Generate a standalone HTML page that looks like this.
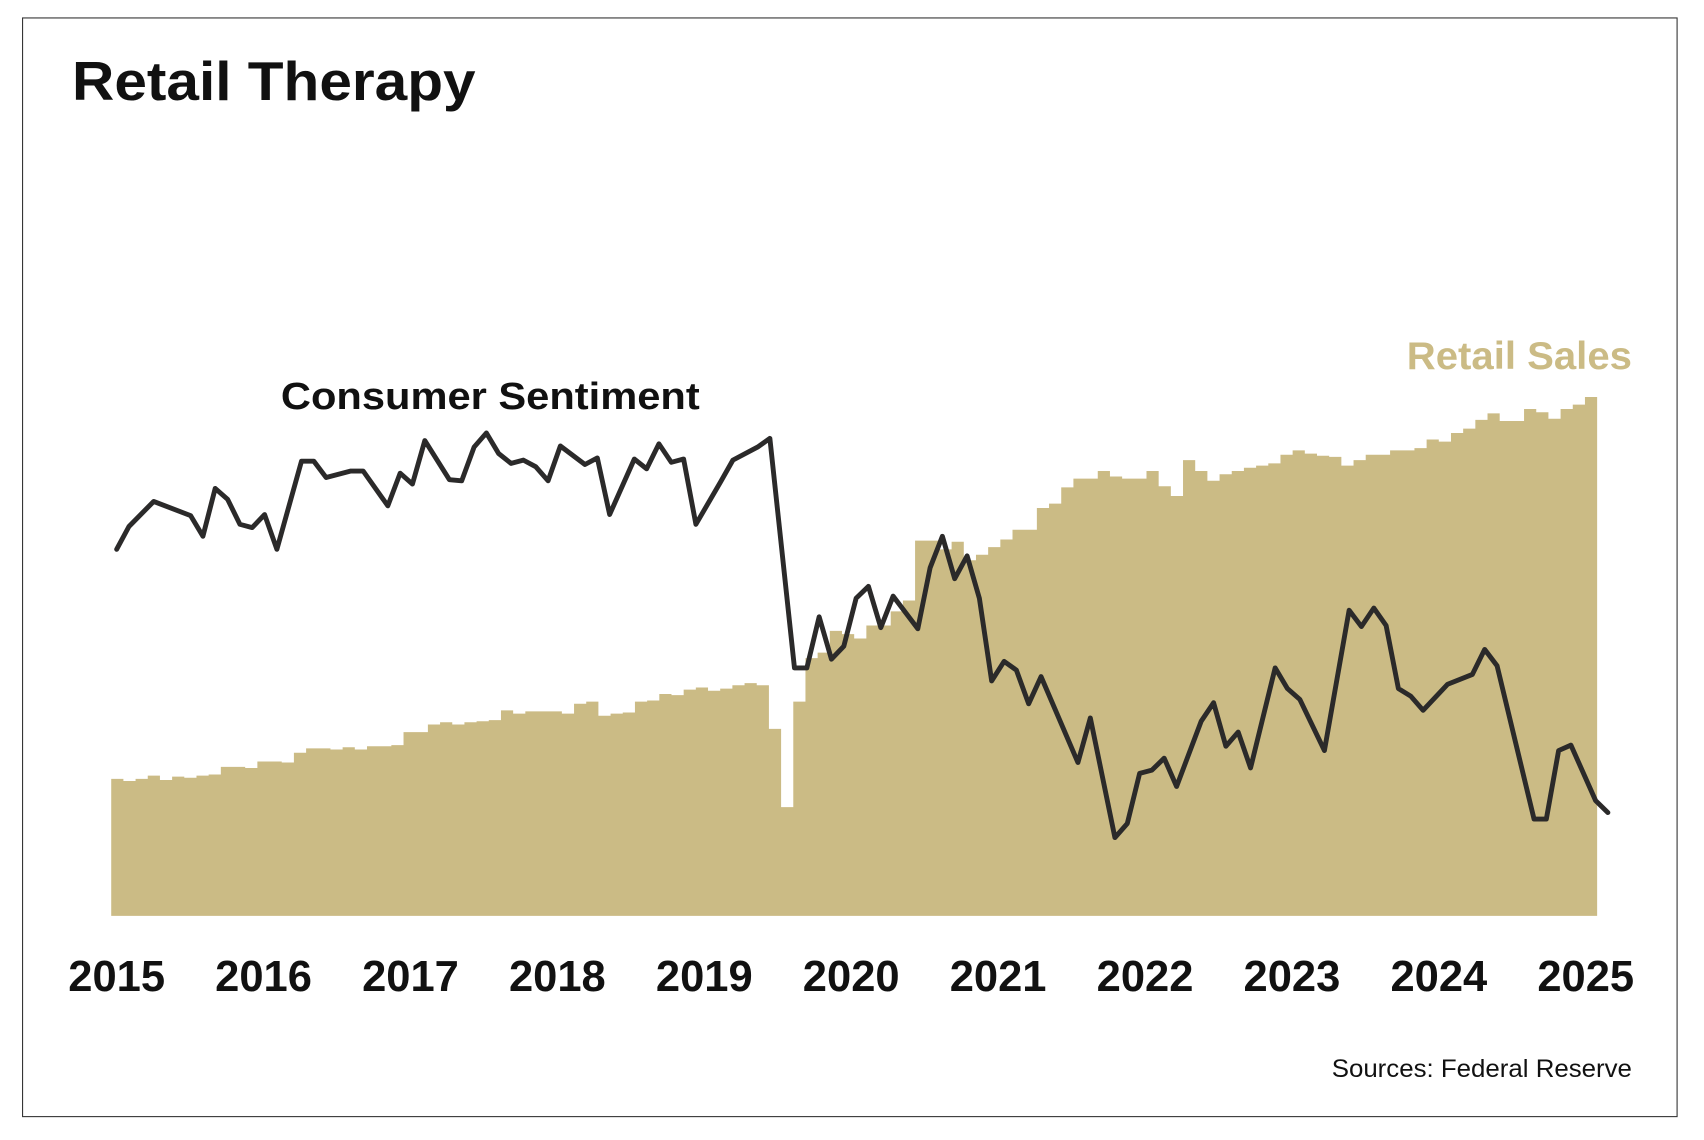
<!DOCTYPE html>
<html><head><meta charset="utf-8"><title>Retail Therapy</title>
<style>
html,body{margin:0;padding:0;background:#fff;}
svg{display:block;}
text{font-family:"Liberation Sans",Arial,sans-serif;}
</style></head>
<body>
<svg id="chart" width="1704" height="1140" viewBox="0 0 1566 1048" xmlns="http://www.w3.org/2000/svg">
  <rect x="20.5" y="16.5" width="1521" height="1010" fill="#fff" stroke="#333" stroke-width="1"/>
  <text x="66" y="92" font-size="50" font-weight="bold" fill="#111" textLength="371" lengthAdjust="spacingAndGlyphs">Retail Therapy</text>
  <g id="bars"></g>
  <g id="line"></g>
  <g id="xaxis"></g>
  <text x="258" y="376" font-size="35" font-weight="bold" fill="#111" textLength="385" lengthAdjust="spacingAndGlyphs">Consumer Sentiment</text>
  <text x="1500" y="339" text-anchor="end" font-size="36" font-weight="bold" fill="#cbbb85" textLength="207" lengthAdjust="spacingAndGlyphs">Retail Sales</text>
  <text x="1500" y="990" text-anchor="end" font-size="23" fill="#111" textLength="276" lengthAdjust="spacingAndGlyphs">Sources: Federal Reserve</text>
</svg>
<script>
// Retail sales (monthly, $B-like index)
const salesValues = [426,424,426,429,425,428,427,429,430,437,437,436,
442,442,441,450,454,454,453,455,453,456,456,457,
469,469,476,478,476,478,479,480,489,486,488,488,
488,486,495,497,484,486,487,497,498,504,503,508,
510,507,509,512,514,512,472,400,497,537,542,562,559,555,567,567,580,590,645,645,637,644,627,632,639,
646,655,655,675,679,694,702,702,709,704,702,702,709,695,686,719,709,700,706,709,712,714,716,
724,728,725,723,722,714,719,724,724,728,728,730,738,736,744,748,756,762,755,755,766,763,757,766,770,777];
// Consumer sentiment: month index and value
const sentMonths = [0,1,3,6,7,8,9,10,11,12,13,15,16,17,19,20,22,23,24,25,27,28,29,30,31,32,33,34,35,36,38,39,40,42,43,44,45,46,47,49,50,52,53,55,56,57,58,59,60,61,62,63,65,66,67,68,69,70,71,72,73,74,75,78,79,81,82,83,84,85,86,88,89,90,91,92,94,95,96,98,100,101,102,103,104,105,106,108,110,111,112,115,116,117,118,120,121];
const sentValues = [99,103.2,107.8,105.2,101.4,110.2,108.2,103.6,103,105.4,99,115.2,115.2,112.2,113.4,113.4,107,113,111,119,111.8,111.6,117.8,120.4,116.6,114.8,115.4,114.2,111.6,118,114.6,115.8,105.4,115.6,113.8,118.4,115,115.6,103.6,111.4,115.4,117.8,119.4,77.2,77.2,86.6,78.8,81.2,90,92.2,84.6,90.4,84.4,95.6,101.4,93.6,97.8,90,74.8,78.4,76.8,70.6,75.6,59.8,68,46,48.6,57.8,58.4,60.6,55.4,67.4,70.8,62.8,65.4,58.8,77.2,73.4,71.4,62,87.8,84.8,88.2,85,73.4,72,69.4,74.2,76,80.6,77.6,49.4,49.4,62,63,52.8,50.6];
const yearLabels = ["2015","2016","2017","2018","2019","2020","2021","2022","2023","2024","2025"];

const NS="http://www.w3.org/2000/svg";
const barLeft=102, barRight=1468, baseY=842;
const barStep=(barRight-barLeft)/salesValues.length;
function barX(i){return barLeft+i*barStep;}
function salesY(v){return baseY-(v-300);}
function monthX(m){return 107+m*11.33;}
function sentY(v){return 1000-v*5;}

const bars=document.getElementById('bars');
let d="M"+barX(0)+","+baseY;
salesValues.forEach((v,i)=>{d+=" L"+barX(i)+","+salesY(v)+" L"+(barX(i)+barStep)+","+salesY(v);});
d+=" L"+barRight+","+baseY+" Z";
const area=document.createElementNS(NS,'path');
area.setAttribute('d',d);area.setAttribute('fill','#cbbb85');


bars.appendChild(area);

const line=document.getElementById('line');
const pts=sentMonths.map((m,i)=>monthX(m).toFixed(1)+","+sentY(sentValues[i]).toFixed(1)).join(" ");
const pl=document.createElementNS(NS,'polyline');
pl.setAttribute('points',pts);pl.setAttribute('fill','none');
pl.setAttribute('stroke','#2b2a2a');pl.setAttribute('stroke-width','4.5');
pl.setAttribute('stroke-linejoin','round');pl.setAttribute('stroke-linecap','round');


line.appendChild(pl);

const xaxis=document.getElementById('xaxis');
yearLabels.forEach((y,i)=>{
  const t=document.createElementNS(NS,'text');
  t.setAttribute('x',monthX(i*11.92));t.setAttribute('y',911);
  t.setAttribute('text-anchor','middle');t.setAttribute('font-size','40');
  t.setAttribute('font-weight','bold');t.setAttribute('fill','#111');
  
  
  t.textContent=y;xaxis.appendChild(t);
});
</script>
</body></html>
